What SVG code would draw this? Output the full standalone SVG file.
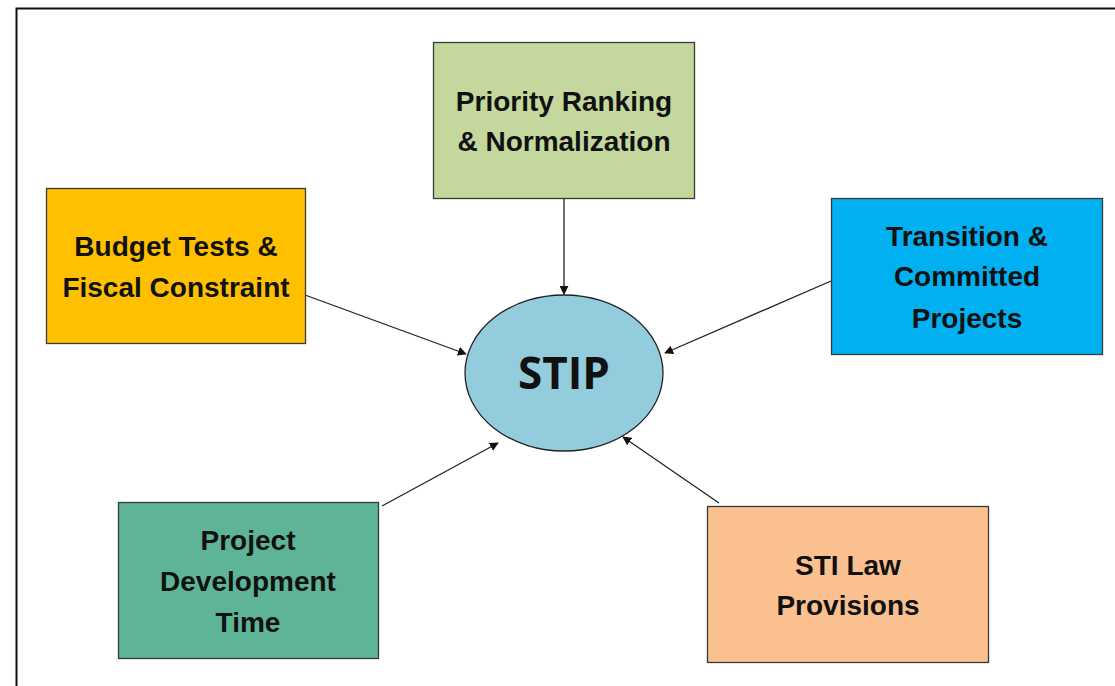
<svg xmlns="http://www.w3.org/2000/svg" width="1115" height="686" viewBox="0 0 1115 686">
<defs>
<style>
.box{stroke:#3a3a3a;stroke-width:1.3}
.lbl{font-family:"Liberation Sans",Arial,sans-serif;font-weight:bold;font-size:28px;fill:#111;text-anchor:middle}
.conn{stroke:#222;stroke-width:1.3;fill:none;marker-end:url(#ah)}
</style>
<marker id="ah" viewBox="0 0 10 10" refX="9" refY="5" markerWidth="9" markerHeight="9" markerUnits="userSpaceOnUse" orient="auto">
<path d="M0,0 L10,5 L0,10 Z" fill="#111"/>
</marker>
</defs>
<rect x="0" y="0" width="1115" height="686" fill="#fff"/>
<path d="M16.5,690 L16.5,8.5 L1120,8.5" fill="none" stroke="#111" stroke-width="2"/>
<g id="connectors">
<line class="conn" x1="564" y1="198" x2="564" y2="294"/>
<line class="conn" x1="305" y1="295" x2="466" y2="354"/>
<line class="conn" x1="831" y1="281" x2="665" y2="353"/>
<line class="conn" x1="382" y1="506" x2="498" y2="443"/>
<line class="conn" x1="719" y1="503" x2="623" y2="437"/>
</g>
<g id="priority">
<rect class="box" x="433.5" y="42.5" width="261" height="156" fill="#c4d79c"/>
<text class="lbl" x="564" y="111">Priority Ranking</text>
<text class="lbl" x="564" y="151">&amp; Normalization</text>
</g>
<g id="budget">
<rect class="box" x="46.5" y="188.5" width="259" height="155" fill="#ffc000"/>
<text class="lbl" x="176" y="256">Budget Tests &amp;</text>
<text class="lbl" x="176" y="297">Fiscal Constraint</text>
</g>
<g id="transition">
<rect class="box" x="831.5" y="198.5" width="271" height="156" fill="#00b0f0"/>
<text class="lbl" x="967" y="246">Transition &amp;</text>
<text class="lbl" x="967" y="286">Committed</text>
<text class="lbl" x="967" y="328">Projects</text>
</g>
<g id="stip">
<ellipse cx="564" cy="373" rx="99" ry="78" fill="#93cddd" stroke="#222" stroke-width="1.3"/>
<text x="564" y="389" font-family="'Open Sans','Liberation Sans',sans-serif" font-weight="bold" font-size="44" fill="#111" text-anchor="middle">STIP</text>
</g>
<g id="project">
<rect class="box" x="118.5" y="502.5" width="260" height="156" fill="#5db496"/>
<text class="lbl" x="248" y="550">Project</text>
<text class="lbl" x="248" y="591">Development</text>
<text class="lbl" x="248" y="632">Time</text>
</g>
<g id="sti">
<rect class="box" x="707.5" y="506.5" width="281" height="156" fill="#fac090"/>
<text class="lbl" x="848" y="575">STI Law</text>
<text class="lbl" x="848" y="615">Provisions</text>
</g>
</svg>
